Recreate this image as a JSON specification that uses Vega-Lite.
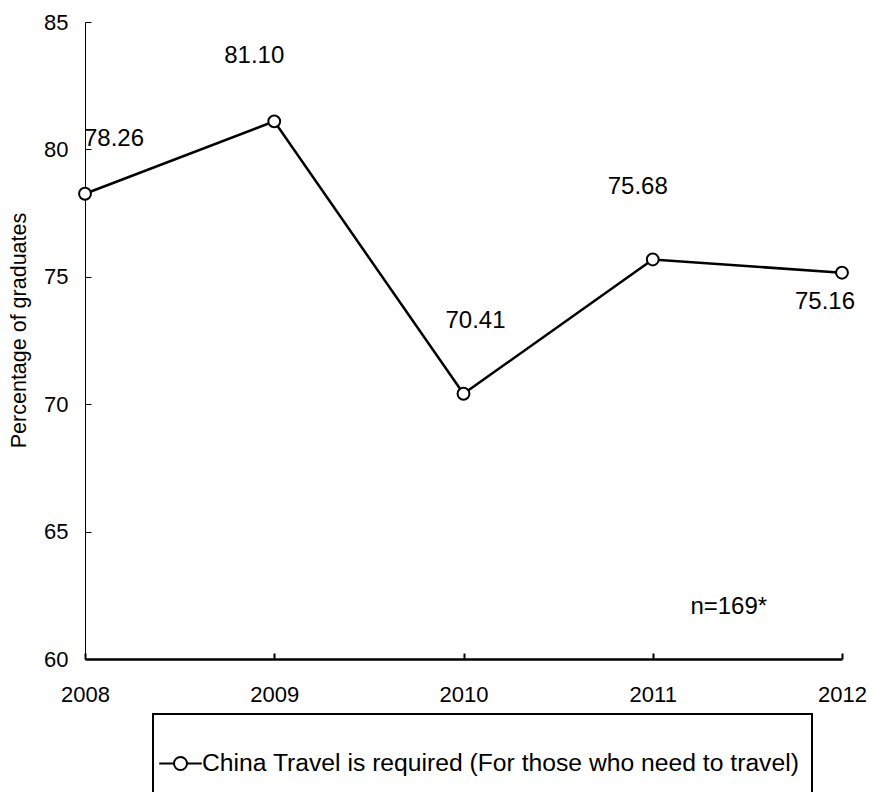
{
  "$schema": "https://vega.github.io/schema/vega-lite/v6.json",
  "width": 757,
  "height": 637,
  "autosize": "none",
  "padding": {"left": 85, "top": 22, "right": 29, "bottom": 133},
  "background": "white",
  "config": {
    "view": {"stroke": null},
    "font": "Liberation Sans",
    "axis": {"grid": false, "domainColor": "black", "tickColor": "black", "labelColor": "black", "titleColor": "black", "labelFont": "Liberation Sans", "titleFont": "Liberation Sans"}
  },
  "data": {
    "values": [
      {"year": "2008", "pct": 78.26, "series": "China Travel is required (For those who need to travel)"},
      {"year": "2009", "pct": 81.10, "series": "China Travel is required (For those who need to travel)"},
      {"year": "2010", "pct": 70.41, "series": "China Travel is required (For those who need to travel)"},
      {"year": "2011", "pct": 75.68, "series": "China Travel is required (For those who need to travel)"},
      {"year": "2012", "pct": 75.16, "series": "China Travel is required (For those who need to travel)"}
    ]
  },
  "encoding": {
    "x": {
      "field": "year", "type": "ordinal",
      "scale": {"type": "point", "padding": 0},
      "axis": {"title": null, "labelAngle": 0, "labelFontSize": 22, "domainWidth": 2.5, "tickWidth": 2, "tickSize": -6, "labelPadding": 31}
    },
    "y": {
      "field": "pct", "type": "quantitative",
      "scale": {"domain": [60, 85], "nice": false, "zero": false},
      "axis": {"title": "Percentage of graduates", "values": [60, 65, 70, 75, 80, 85], "labelFontSize": 22, "titleFontSize": 21.5, "titleFontWeight": "normal", "domainWidth": 1, "tickWidth": 1, "tickSize": -6, "labelPadding": 23, "titleX": -66, "titleY": 308, "titleAlign": "center", "titleBaseline": "middle", "titleAngle": -90}
    }
  },
  "layer": [
    {
      "mark": {"type": "line", "strokeWidth": 2.5},
      "encoding": {
        "stroke": {
          "field": "series", "type": "nominal",
          "scale": {"range": ["black"]},
          "legend": {
            "title": " ", "titleFontSize": 24, "titlePadding": 1,
            "orient": "none", "legendX": 68, "legendY": 692,
            "padding": 12, "strokeColor": "black", "fillColor": "white",
            "labelFontSize": 24.7, "labelLimit": 2000, "labelColor": "black",
            "symbolOffset": 3, "labelOffset": 9,
            "symbolType": "M-1.85,0H-0.565M0.565,0H1.85M0.565,0A0.565,0.565,0,1,1,-0.565,0A0.565,0.565,0,1,1,0.565,0ZM0,3.2",
            "symbolSize": 529, "symbolStrokeWidth": 2, "symbolFillColor": "white", "symbolStrokeColor": "black",
            "encode": {"legend": {"update": {"strokeWidth": {"value": 2}}}}
          }
        }
      }
    },
    {
      "mark": {"type": "point", "filled": true, "fill": "white", "stroke": "black", "strokeWidth": 2, "size": 140, "opacity": 1}
    },
    {
      "transform": [{"filter": "datum.year == '2008'"}],
      "mark": {"type": "text", "fontSize": 24, "color": "black", "dx": 29, "dy": -55},
      "encoding": {"text": {"field": "pct", "type": "quantitative", "format": ".2f"}}
    },
    {
      "transform": [{"filter": "datum.year == '2009'"}],
      "mark": {"type": "text", "fontSize": 24, "color": "black", "dx": -20, "dy": -65},
      "encoding": {"text": {"field": "pct", "type": "quantitative", "format": ".2f"}}
    },
    {
      "transform": [{"filter": "datum.year == '2010'"}],
      "mark": {"type": "text", "fontSize": 24, "color": "black", "dx": 12, "dy": -73},
      "encoding": {"text": {"field": "pct", "type": "quantitative", "format": ".2f"}}
    },
    {
      "transform": [{"filter": "datum.year == '2011'"}],
      "mark": {"type": "text", "fontSize": 24, "color": "black", "dx": -15, "dy": -72},
      "encoding": {"text": {"field": "pct", "type": "quantitative", "format": ".2f"}}
    },
    {
      "transform": [{"filter": "datum.year == '2012'"}],
      "mark": {"type": "text", "fontSize": 24, "color": "black", "dx": -17, "dy": 29},
      "encoding": {"text": {"field": "pct", "type": "quantitative", "format": ".2f"}}
    },
    {
      "transform": [{"filter": "datum.year == '2011'"}],
      "mark": {"type": "text", "fontSize": 24, "color": "black", "dx": 76, "text": "n=169*"},
      "encoding": {
        "y": {"datum": 62.05}
      }
    }
  ]
}
